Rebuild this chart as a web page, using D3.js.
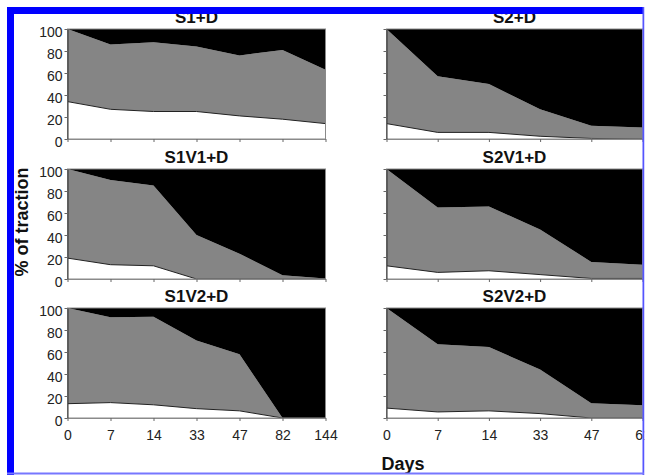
<!DOCTYPE html>
<html><head><meta charset="utf-8">
<script src="https://cdn.jsdelivr.net/npm/d3@7"></script>
<style>
body { margin: 0; background: #fff; }
text { font-family: "Liberation Sans", Arial, sans-serif; }
</style>
</head><body>
<div id="chart"></div>
<script>
// sampling days (left column runs to 144 d, right column to 61 d)
var daysLeft = ["0", "7", "14", "33", "47", "82", "144"];
var daysRight = ["0", "7", "14", "33", "47", "61"];
var titles = ["S1+D", "S2+D", "S1V1+D", "S2V1+D", "S1V2+D", "S2V2+D"];
var yTicks = [0, 20, 40, 60, 80, 100];

// % in white (bottom) and grey (middle) fraction, black fills up to 100
var whiteS1D   = [34, 27, 25, 25, 21, 18, 14];
var greyS1D    = [66, 59, 63, 59, 55, 63, 49];
var whiteS2D   = [14, 6, 6, 2.5, 0.5, 0];
var greyS2D    = [86, 51, 44, 24.5, 11.5, 10.5];
var whiteS1V1D = [19, 13, 12, 0, 0, 0, 0];
var greyS1V1D  = [81, 77, 73, 40, 23, 3.5, 0.5];
var whiteS2V1D = [12, 6, 7.5, 4, 0.5, 0.5];
var greyS2V1D  = [88, 59, 58.5, 41, 15, 12.5];
var whiteS1V2D = [13, 14, 12, 8.5, 6.5, 0, 0];
var greyS1V2D  = [87, 77.5, 80, 62, 51.5, 0, 0];
var whiteS2V2D = [9, 5.5, 6.5, 4, 0, 0];
var greyS2V2D  = [91, 61.5, 58, 40, 13.5, 11.5];

var panels = [
  {title: titles[0], days: daysLeft,  white: whiteS1D,   grey: greyS1D,   col: 0, row: 0},
  {title: titles[1], days: daysRight, white: whiteS2D,   grey: greyS2D,   col: 1, row: 0},
  {title: titles[2], days: daysLeft,  white: whiteS1V1D, grey: greyS1V1D, col: 0, row: 1},
  {title: titles[3], days: daysRight, white: whiteS2V1D, grey: greyS2V1D, col: 1, row: 1},
  {title: titles[4], days: daysLeft,  white: whiteS1V2D, grey: greyS1V2D, col: 0, row: 2},
  {title: titles[5], days: daysRight, white: whiteS2V2D, grey: greyS2V2D, col: 1, row: 2}
];

var W = 646, H = 475;
var colX = [[67.5, 325.5], [386.5, 642.5]];
var rowY = [29, 169, 308], ph = 110;
var fills = {white: "#ffffff", grey: "#858585", black: "#000000"};

var svg = d3.select("#chart").append("svg")
    .attr("width", W)
    .attr("height", H);

panels.forEach(function(p) {
  var top = rowY[p.row], bottom = top + ph;
  var x = d3.scalePoint().domain(p.days).range(colX[p.col]);
  var y = d3.scaleLinear().domain([0, 100]).range([bottom, top]);
  var g = svg.append("g");

  var rows = p.days.map(function(d, i) {
    return {day: d, white: p.white[i], grey: p.grey[i], black: Math.max(0, 100 - p.white[i] - p.grey[i])};
  });
  var series = d3.stack().keys(["white", "grey", "black"])(rows);

  var area = d3.area()
      .x(function(d) { return x(d.data.day); })
      .y0(function(d) { return y(d[0]); })
      .y1(function(d) { return y(d[1]); });

  g.selectAll(".layer")
      .data(series)
      .enter().append("path")
      .attr("d", area)
      .attr("fill", function(d) { return fills[d.key]; });

  // dark edge along the top of the white fraction
  g.append("path")
      .datum(rows)
      .attr("fill", "none")
      .attr("stroke", "#222")
      .attr("stroke-width", 1)
      .attr("d", d3.line()
        .x(function(d) { return x(d.day); })
        .y(function(d) { return y(d.white); }));

  // plot frame
  g.append("rect")
      .attr("x", colX[p.col][0]).attr("y", top)
      .attr("width", colX[p.col][1] - colX[p.col][0]).attr("height", ph)
      .attr("fill", "none")
      .attr("stroke", "#8a8a8a");

  // y axis
  var ya = g.append("g")
      .attr("transform", "translate(" + colX[p.col][0] + ",0)")
      .call(d3.axisLeft(y).tickValues(yTicks).tickSizeInner(3).tickSizeOuter(0).tickPadding(2)
        .tickFormat(p.col == 0 ? d3.format("d") : ""));
  ya.select(".domain").attr("stroke", "#333");
  ya.selectAll(".tick line").attr("stroke", "#666");
  ya.selectAll("text").attr("font-size", 14).attr("fill", "#222").attr("font-family", null).attr("dy", "0.57em");

  // x axis
  var xa = g.append("g")
      .attr("transform", "translate(0," + bottom + ")")
      .call(d3.axisBottom(x).tickSizeInner(3).tickSizeOuter(0).tickPadding(9)
        .tickFormat(p.row == 2 ? null : ""));
  xa.select(".domain").attr("stroke", "#8a8a8a");
  xa.selectAll(".tick line").attr("stroke", "#666");
  xa.selectAll("text").attr("font-size", 14).attr("fill", "#222").attr("font-family", null);

  // panel title
  g.append("text")
      .attr("x", (colX[p.col][0] + colX[p.col][1]) / 2)
      .attr("y", top - 6)
      .attr("text-anchor", "middle")
      .attr("font-size", 17)
      .attr("font-weight", "bold")
      .attr("fill", "#111")
      .text(p.title);
});

// axis titles
svg.append("text")
    .attr("transform", "translate(28,222) rotate(-90)")
    .attr("text-anchor", "middle")
    .attr("font-size", 18)
    .attr("font-weight", "bold")
    .attr("fill", "#111")
    .text("% of traction");

svg.append("text")
    .attr("x", 403).attr("y", 470)
    .attr("text-anchor", "middle")
    .attr("font-size", 18)
    .attr("font-weight", "bold")
    .attr("fill", "#111")
    .text("Days");

// blue frame round the figure: thick top and left, thin right and bottom
svg.append("rect").attr("x", 7).attr("y", 7).attr("width", 637).attr("height", 7).attr("fill", "#0000ff");
svg.append("rect").attr("x", 7).attr("y", 7).attr("width", 7).attr("height", 468).attr("fill", "#0000ff");
svg.append("rect").attr("x", 642.5).attr("y", 7).attr("width", 2).attr("height", 468).attr("fill", "#5555ff");
svg.append("rect").attr("x", 7).attr("y", 472.5).attr("width", 637).attr("height", 2).attr("fill", "#7777ff");
svg.append("rect").attr("x", 644.5).attr("y", 0).attr("width", 2).attr("height", H).attr("fill", "#fff");
</script>
</body></html>
